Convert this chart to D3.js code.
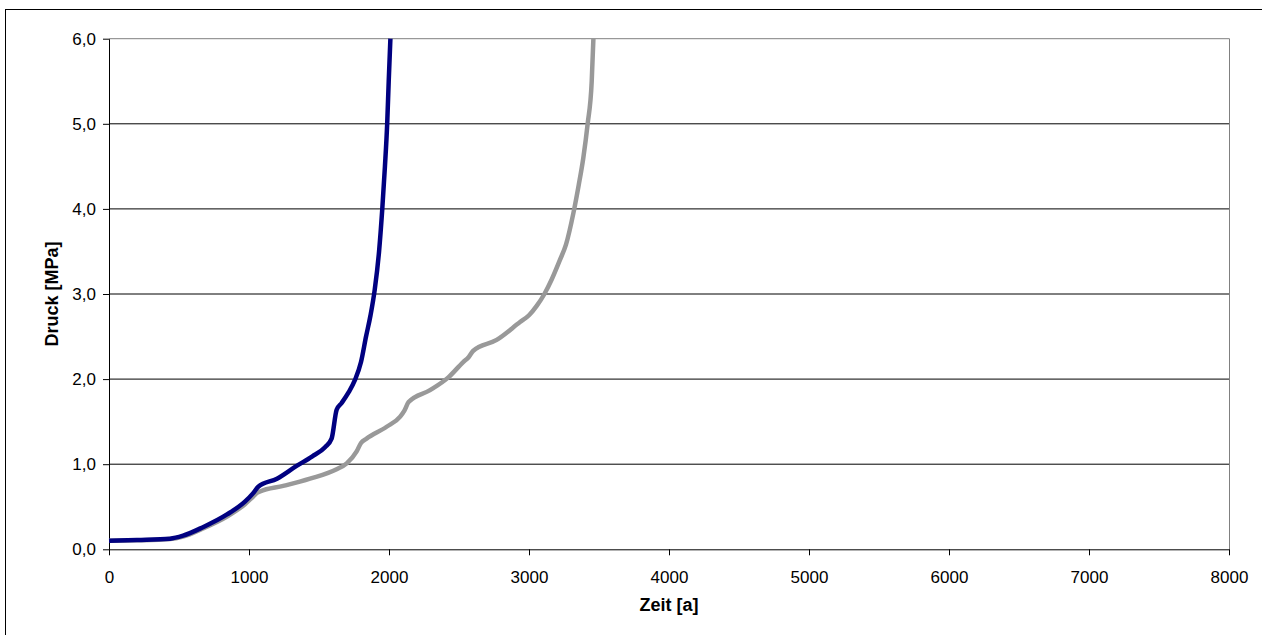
<!DOCTYPE html>
<html>
<head>
<meta charset="utf-8">
<script src="https://cdn.jsdelivr.net/npm/d3@7"></script>
<style>
  html, body { margin: 0; padding: 0; background: #fff; }
  svg { display: block; font-family: "Liberation Sans", Arial, sans-serif; }
</style>
</head>
<body>
<svg id="chart" width="1262" height="635"></svg>
<script>
// Zeit [a] / Druck [MPa] — two pressure curves
const blueTime = [0, 200, 436, 529, 671, 843, 971, 1030, 1066, 1200, 1340, 1450, 1543, 1590, 1626, 1662, 1710, 1757, 1800, 1836, 1868, 1898, 1929, 1952, 1971, 1987, 1998, 2010];
const bluePressure = [0.10, 0.11, 0.125, 0.16, 0.26, 0.41, 0.56, 0.66, 0.735, 0.83, 0.98, 1.09, 1.20, 1.30, 1.64, 1.72, 1.84, 1.99, 2.20, 2.50, 2.75, 3.05, 3.50, 4.00, 4.50, 5.00, 5.50, 6.00];

const grayTime = [0, 200, 436, 529, 671, 843, 971, 1030, 1060, 1079, 1245, 1436, 1626, 1698, 1769, 1800, 1840, 1983, 2080, 2110, 2140, 2293, 2424, 2530, 2570, 2600, 2769, 2936, 3000, 3055, 3110, 3162, 3221, 3264, 3317, 3355, 3388, 3419, 3448, 3460];
const grayPressure = [0.10, 0.105, 0.12, 0.15, 0.245, 0.385, 0.53, 0.62, 0.665, 0.68, 0.745, 0.83, 0.94, 1.01, 1.15, 1.25, 1.30, 1.44, 1.56, 1.63, 1.73, 1.87, 2.02, 2.20, 2.26, 2.33, 2.46, 2.67, 2.75, 2.86, 3.00, 3.17, 3.40, 3.58, 3.95, 4.28, 4.60, 5.00, 5.50, 6.00];

const xTicks = [0, 1000, 2000, 3000, 4000, 5000, 6000, 7000, 8000];
const yTicks = [0, 1, 2, 3, 4, 5, 6];

const xTitle = "Zeit [a]";
const yTitle = "Druck [MPa]";

const svg = d3.select("#chart");

// outer chart frame
svg.append("rect")
  .attr("x", 5.5).attr("y", 9.5)
  .attr("width", 1262).attr("height", 640)
  .attr("fill", "none").attr("stroke", "#000").attr("stroke-width", 1);

const plot = { left: 109, right: 1229, top: 38.7, bottom: 549.3 };

const x = d3.scaleLinear().domain([0, 8000]).range([plot.left, plot.right]);
const y = d3.scaleLinear().domain([0, 6]).range([plot.bottom, plot.top]);

const deLocale = d3.formatLocale({ decimal: ",", thousands: ".", grouping: [3], currency: ["", " €"] });
const yFmt = deLocale.format(".1f");

// horizontal gridlines
svg.append("g")
  .selectAll("line")
  .data(yTicks.filter(d => d > 0 && d < 6))
  .join("line")
  .attr("x1", plot.left).attr("x2", plot.right)
  .attr("y1", d => y(d)).attr("y2", d => y(d))
  .attr("stroke", "#000").attr("stroke-width", 1);

// plot area border (top and right)
svg.append("path")
  .attr("d", `M${plot.left},${y(6)}H${plot.right + 0.5}V${plot.bottom}`)
  .attr("fill", "none").attr("stroke", "#808080").attr("stroke-width", 1);

// x axis
const xAxis = svg.append("g")
  .attr("transform", `translate(0,${plot.bottom})`)
  .call(d3.axisBottom(x).tickValues(xTicks).tickFormat(d3.format("d")).tickSizeOuter(0).tickSizeInner(6).tickPadding(16));
xAxis.select(".domain").attr("stroke", "#000");
xAxis.selectAll(".tick line").attr("stroke", "#000");
xAxis.selectAll("text").attr("font-size", 17).attr("fill", "#000")
  .attr("font-family", "Liberation Sans, Arial, sans-serif");

// y axis
const yAxis = svg.append("g")
  .attr("transform", `translate(${plot.left},0)`)
  .call(d3.axisLeft(y).tickValues(yTicks).tickFormat(yFmt).tickSizeOuter(0).tickSizeInner(6).tickPadding(7));
yAxis.select(".domain").attr("stroke", "#000");
yAxis.selectAll(".tick line").attr("stroke", "#000");
yAxis.selectAll("text").attr("font-size", 17).attr("fill", "#000")
  .attr("font-family", "Liberation Sans, Arial, sans-serif");

// series
const line = d3.line()
  .x(d => x(d[0]))
  .y(d => y(d[1]))
  .curve(d3.curveMonotoneX);

const grayData = grayTime.map((t, i) => [t, grayPressure[i]]);
const blueData = blueTime.map((t, i) => [t, bluePressure[i]]);

svg.append("path")
  .datum(grayData)
  .attr("d", line)
  .attr("fill", "none")
  .attr("stroke", "#999999")
  .attr("stroke-width", 4.5)
  .attr("stroke-linejoin", "round")
  .attr("stroke-linecap", "butt");

svg.append("path")
  .datum(blueData)
  .attr("d", line)
  .attr("fill", "none")
  .attr("stroke", "#000080")
  .attr("stroke-width", 4.5)
  .attr("stroke-linejoin", "round")
  .attr("stroke-linecap", "butt");

// axis titles
svg.append("text")
  .attr("x", (plot.left + plot.right) / 2)
  .attr("y", 611)
  .attr("text-anchor", "middle")
  .attr("font-size", 18).attr("font-weight", "bold")
  .text(xTitle);

svg.append("text")
  .attr("transform", `translate(58,${(plot.top + plot.bottom) / 2}) rotate(-90)`)
  .attr("text-anchor", "middle")
  .attr("font-size", 18).attr("font-weight", "bold")
  .text(yTitle);
</script>
</body>
</html>
